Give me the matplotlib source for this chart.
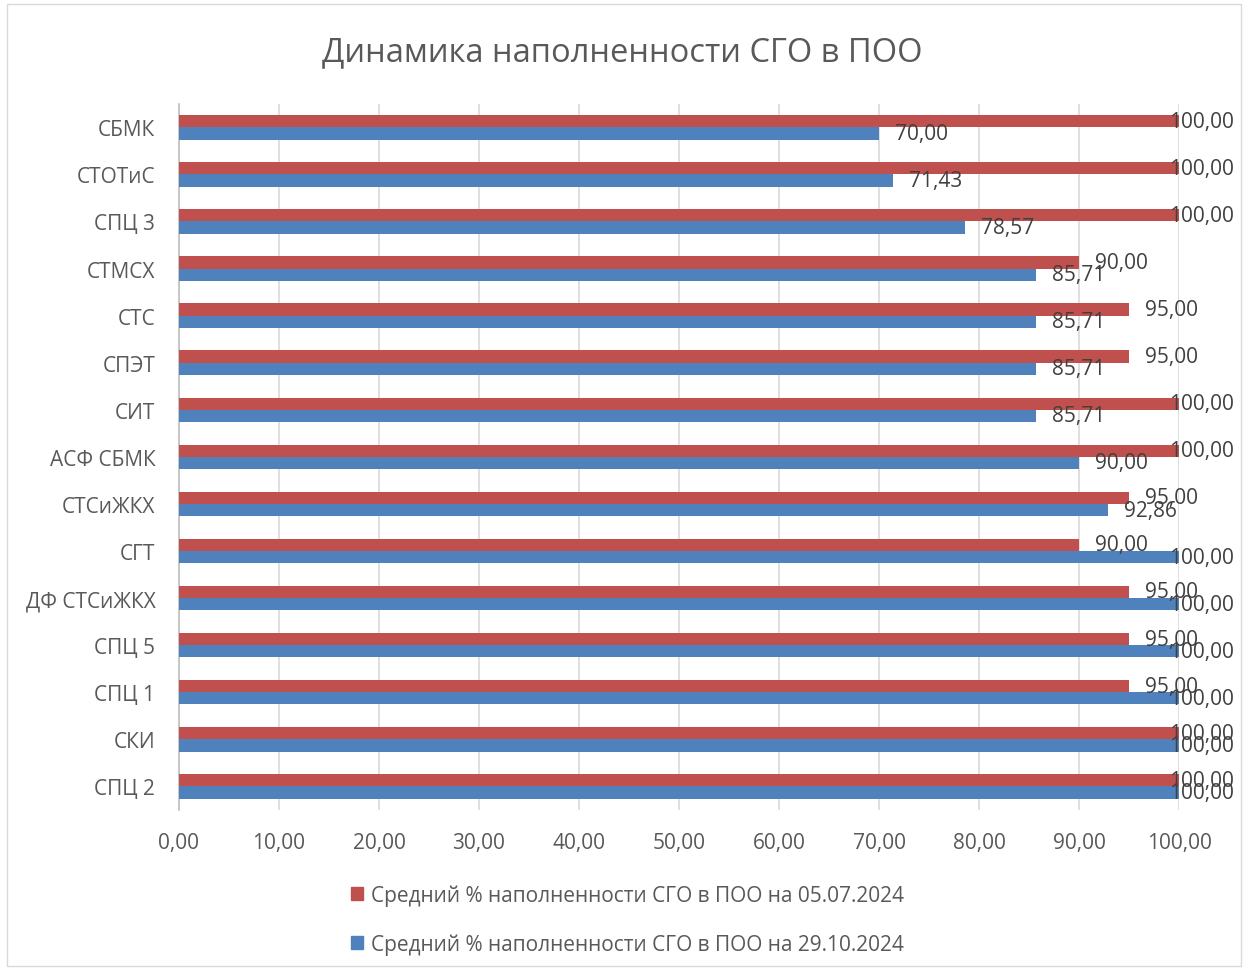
import matplotlib
matplotlib.use("Agg")
import matplotlib.pyplot as plt
from matplotlib.patches import Patch, Rectangle

plt.rcParams['font.family'] = ['Open Sans', 'DejaVu Sans']

# categories top to bottom
categories = ["СБМК", "СТОТиС", "СПЦ 3", "СТМСХ", "СТС", "СПЭТ", "СИТ", "АСФ СБМК",
              "СТСиЖКХ", "СГТ", "ДФ СТСиЖКХ", "СПЦ 5", "СПЦ 1", "СКИ", "СПЦ 2"]
july = [100, 100, 100, 90, 95, 95, 100, 100, 95, 90, 95, 95, 95, 100, 100]
october = [70.00, 71.43, 78.57, 85.71, 85.71, 85.71, 85.71, 90.00, 92.86,
           100, 100, 100, 100, 100, 100]
series_names = ["Средний % наполненности СГО в ПОО на 05.07.2024",
                "Средний % наполненности СГО в ПОО на 29.10.2024"]
xticks = [0, 10, 20, 30, 40, 50, 60, 70, 80, 90, 100]

red = "#C0504D"
blue = "#4F81BD"
txt = "#404040"
tick_col = "#595959"

fig = plt.figure(figsize=(12.47, 9.70), dpi=100)
ax = fig.add_axes([0.1435, 0.164, 0.802, 0.728])

h = 0.26
pos = list(range(len(categories)))
ax.barh([p - h / 2 for p in pos], july, height=h, color=red, zorder=3)
ax.barh([p + h / 2 for p in pos], october, height=h, color=blue, zorder=3)

def fmt(v):
    return f"{v:.2f}".replace(".", ",")

for vals, off_y in ((july, -h / 2), (october, h / 2)):
    for p, v in zip(pos, vals):
        dx = -10 if v >= 100 else 16
        ax.annotate(fmt(v), (v, p + off_y), xytext=(dx, 0), textcoords="offset pixels",
                    ha="left", va="center", fontsize=15, color=txt, zorder=4)

ax.set_xlim(0, 100)
ax.set_ylim(len(categories) - 0.5, -0.5)
ax.set_yticks(pos)
ax.set_yticklabels(categories)
ax.set_xticks(xticks)
ax.set_xticklabels([fmt(t) for t in xticks])
ax.tick_params(axis="both", length=0, labelsize=15, colors=tick_col)
ax.tick_params(axis="x", pad=16)
ax.tick_params(axis="y", pad=17)
ax.grid(axis="x", color="#D9D9D9", linewidth=1.2, zorder=0)
for s in ("top", "right", "bottom"):
    ax.spines[s].set_visible(False)
ax.spines["left"].set_color("#BFBFBF")
ax.spines["left"].set_linewidth(1.2)

fig.text(0.499, 0.946, "Динамика наполненности СГО в ПОО", ha="center", va="center",
         fontsize=23.5, color=tick_col)

handles = [Patch(color=red), Patch(color=blue)]
fig.legend(handles, series_names, loc="center", bbox_to_anchor=(0.503, 0.051), ncol=1,
           frameon=False, fontsize=15, labelcolor=tick_col, handlelength=0.6,
           handleheight=0.6, handletextpad=0.35, labelspacing=1.3)

fig.patches.append(Rectangle((0.006, 0.003), 0.989, 0.992, transform=fig.transFigure,
                             fill=False, edgecolor="#D9D9D9", linewidth=1))

fig.savefig("out.png", dpi=100, facecolor="white")
